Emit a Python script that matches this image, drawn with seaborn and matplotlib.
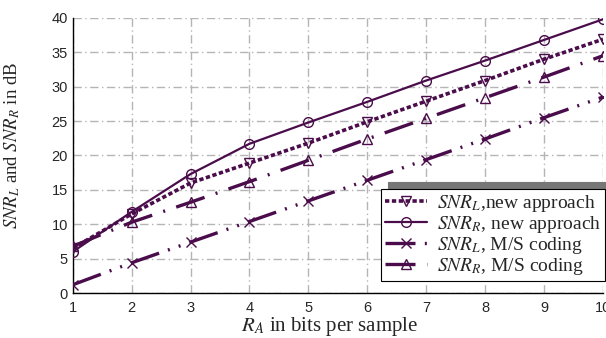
import numpy as np
import pandas as pd
import matplotlib
matplotlib.use('Agg')
import matplotlib.pyplot as plt
import seaborn as sns

# bits per sample and SNR values
ra = [1, 2, 3, 4, 5, 6, 7, 8, 9, 10]
snr_l_new = [6.5, 11.5, 16.0, 18.9, 21.8, 24.9, 27.9, 30.9, 34.0, 36.9]
snr_r_new = [6.0, 11.8, 17.3, 21.7, 24.8, 27.8, 30.9, 33.8, 36.8, 39.8]
snr_l_ms = [1.2, 4.4, 7.4, 10.4, 13.4, 16.4, 19.4, 22.4, 25.5, 28.5]
snr_r_ms = [6.8, 10.3, 13.2, 16.2, 19.3, 22.4, 25.4, 28.4, 31.4, 34.5]

labels = [r'$SNR_L$,new approach', r'$SNR_R$, new approach',
          r'$SNR_L$, M/S coding', r'$SNR_R$, M/S coding']

sns.set_style('white')
plt.rcParams['font.family'] = ['Liberation Serif', 'DejaVu Serif']
plt.rcParams['mathtext.fontset'] = 'stix'

purple = '#4a0c4a'

fig = plt.figure(figsize=(6.06, 3.38), dpi=100)
ax = fig.add_axes([0.120, 0.133, 0.875, 0.814])

series = [
    (snr_l_new, 'v', (0, (1.2, 0.7)), 2.6),
    (snr_r_new, 'o', '-', 1.6),
    (snr_l_ms, 'x', (0, (9, 2.8, 0.6, 2.8, 0.6, 2.8)), 2.4),
    (snr_r_ms, '^', (0, (9, 3.5, 0.6, 3.5)), 2.4),
]
for (vals, mk, ls, lw), lab in zip(series, labels):
    sns.lineplot(x=ra, y=vals, ax=ax, color=purple, linestyle=ls, lw=lw,
                 marker=mk, markersize=7, mfc='none', mec=purple, mew=1.0,
                 label=lab, zorder=3)

ax.set_xlim(1, 10)
ax.set_ylim(0, 40)
ax.set_xticks(range(1, 11))
ax.set_yticks(range(0, 41, 5))
ax.grid(True, color='#b5b5b5', linestyle=(0, (6, 2.5, 1, 2.5)), lw=1.0)
for s in ['top', 'right']:
    ax.spines[s].set_visible(False)
for s in ['left', 'bottom']:
    ax.spines[s].set_color('black')
    ax.spines[s].set_linewidth(1.0)
ax.tick_params(direction='in', length=4, width=0.8, color='black',
               labelsize=10.5, labelfontfamily='Liberation Sans')
ax.tick_params(axis='x', pad=6)

ax.set_xlabel(r'$R_A$ in bits per sample', fontsize=15)
ax.set_ylabel(r'$SNR_L$ and $SNR_R$ in dB', fontsize=13.5)
ax.xaxis.set_label_coords(0.485, -0.078)
ax.yaxis.set_label_coords(-0.095, 0.535)

leg = ax.legend(loc='lower right', bbox_to_anchor=(1.004, 0.045), fontsize=14,
                handlelength=2.2, handletextpad=0.5, labelspacing=0.0,
                borderpad=0.2, borderaxespad=0, fancybox=False, framealpha=1,
                edgecolor='black',
                shadow={'ox': 5, 'oy': 5, 'color': '#777777', 'alpha': 1})
leg.get_frame().set_linewidth(0.8)

plt.savefig('out.png', dpi=100)
